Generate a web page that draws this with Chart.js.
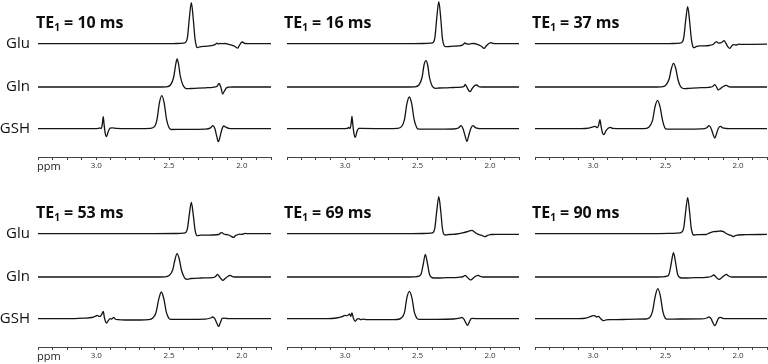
<!DOCTYPE html>
<html>
<head>
<meta charset="utf-8">
<script src="https://cdn.jsdelivr.net/npm/chart.js@4.4.0/dist/chart.umd.min.js"></script>
<style>
  body { margin: 0; width: 768px; height: 364px; background: #fff; position: relative; overflow: hidden; font-family: "Open Sans", sans-serif; }
  .panel { position: absolute; }
  .title { position: absolute; font-weight: 700; font-size: 16px; line-height: 1; color: #0d0d0d; white-space: nowrap; }
  .title sub { font-size: 10px; vertical-align: -3px; line-height: 0; }
</style>
</head>
<body>
<script>
// echo times (ms) and metabolites
const echoTimes = [10, 16, 37, 53, 69, 90];
const metabolites = ['Glu', 'Gln', 'GSH'];

// x axis ticks (ppm), labelled ones
const ppmTicks = [3.4, 3.3, 3.2, 3.1, 3.0, 2.9, 2.8, 2.7, 2.6, 2.5, 2.4, 2.3, 2.2, 2.1, 2.0, 1.9, 1.8];
const tickLabels = ['3.0', '2.5', '2.0'];

// spectra: [ppm, intensity]
const glu10 = [[3.40,0],[2.60,0],[2.45,0.2],[2.40,0.5],[2.385,1.5],[2.374,6],[2.361,25],[2.347,41],[2.334,25],[2.322,5],[2.312,-2.5],[2.305,-4],[2.29,-3.2],[2.25,-2.6],[2.21,-2],[2.185,-1],[2.17,0.5],[2.16,-0.3],[2.15,0.3],[2.135,0],[2.115,0.2],[2.095,-0.5],[2.07,-1.5],[2.045,-3],[2.03,-4.5],[2.018,-2],[2.005,1],[1.995,1.7],[1.985,0.5],[1.965,0],[1.80,0]];
const gln10 = [[3.40,0],[2.60,0],[2.52,0.2],[2.49,2],[2.468,10],[2.455,22],[2.445,28],[2.435,23],[2.423,11],[2.405,2],[2.39,-1],[2.375,-1.7],[2.35,-1.5],[2.30,-1.2],[2.25,-0.8],[2.20,-0.3],[2.17,0.8],[2.157,3.5],[2.145,0],[2.132,-7],[2.12,-4],[2.105,-0.8],[2.09,-0.2],[2.06,0],[1.80,0]];
const gsh10 = [[3.40,0],[3.02,0],[2.985,0.3],[2.975,0.8],[2.965,0.2],[2.958,5],[2.952,12],[2.946,4],[2.938,-5],[2.929,-8],[2.918,-3],[2.905,0.5],[2.89,0.8],[2.86,0.3],[2.70,0],[2.63,0.3],[2.60,2],[2.583,9],[2.566,26],[2.55,33],[2.534,26],[2.517,9],[2.50,1],[2.485,-0.8],[2.40,-0.6],[2.25,-0.4],[2.215,0.8],[2.20,3],[2.185,0],[2.172,-8],[2.162,-13],[2.15,-8],[2.138,-1],[2.125,2.7],[2.11,1.5],[2.09,0.3],[2.06,0],[1.80,0]];

const glu16 = [[3.40,0],[2.60,0],[2.46,0.2],[2.41,0.6],[2.39,1.5],[2.38,6],[2.367,26],[2.353,42],[2.34,26],[2.328,5],[2.316,-2],[2.305,-3],[2.296,-3],[2.27,-2.6],[2.22,-2.2],[2.19,-1.5],[2.172,0.7],[2.16,-0.3],[2.145,-0.5],[2.13,0],[2.11,0.2],[2.09,-0.5],[2.065,-2],[2.048,-4],[2.039,-4.7],[2.025,-2],[2.005,0.5],[1.993,1],[1.98,0.3],[1.96,0],[1.80,0]];
const gln16 = [[3.40,0],[2.60,0],[2.52,0.2],[2.49,2],[2.468,10],[2.455,22],[2.442,26.3],[2.43,22],[2.418,10],[2.402,2],[2.39,-0.5],[2.375,-1.3],[2.35,-1],[2.30,-0.8],[2.25,-0.5],[2.20,-0.2],[2.18,0.5],[2.171,2.7],[2.16,0],[2.147,-3.5],[2.137,-4.7],[2.125,-2],[2.105,1.5],[2.091,2],[2.078,0.5],[2.06,0],[1.80,0]];
const gsh16 = [[3.40,0],[3.02,0],[2.985,0.3],[2.975,1.2],[2.965,0.3],[2.958,5],[2.952,12.3],[2.946,4],[2.938,-5],[2.929,-8.7],[2.918,-3],[2.905,0.3],[2.89,0.3],[2.70,0],[2.64,0.3],[2.61,2],[2.59,9],[2.573,25],[2.556,31.7],[2.54,25],[2.523,9],[2.505,1],[2.49,-0.5],[2.40,-0.5],[2.25,-0.3],[2.215,1],[2.20,3],[2.186,0],[2.172,-7],[2.159,-12.7],[2.147,-7],[2.133,0],[2.118,3],[2.10,1],[2.08,0.2],[2.06,0],[1.80,0]];

const glu37 = [[3.40,0],[2.60,0],[2.45,0.2],[2.40,0.5],[2.385,1.5],[2.374,6],[2.361,23],[2.347,37],[2.334,23],[2.322,5],[2.312,-2.5],[2.304,-4],[2.29,-3],[2.25,-2.2],[2.20,-1.8],[2.17,-0.5],[2.148,2],[2.135,0.5],[2.125,0.7],[2.11,1.5],[2.096,3],[2.082,0],[2.068,-3.5],[2.057,-4.7],[2.045,-2.5],[2.03,-1],[2.011,-1.3],[1.995,-0.5],[1.98,-0.7],[1.90,-0.6],[1.80,-0.5]];
const gln37 = [[3.40,0],[2.60,0],[2.53,0.2],[2.50,1.5],[2.475,8],[2.46,18],[2.445,23.7],[2.43,19],[2.415,8],[2.40,1.5],[2.385,-1],[2.37,-1.7],[2.34,-1.3],[2.28,-0.8],[2.20,-0.3],[2.175,0.5],[2.16,2.3],[2.148,0],[2.137,-3],[2.125,-2],[2.105,0.3],[2.08,1.7],[2.065,0.3],[2.05,0],[1.80,0]];
const gsh37 = [[3.40,0],[3.08,0],[3.03,0.5],[3.00,1.8],[2.985,2.3],[2.972,1],[2.962,3],[2.952,9],[2.944,2],[2.935,-4],[2.925,-6],[2.912,-2.5],[2.895,0.5],[2.88,1.3],[2.865,0.3],[2.80,0],[2.65,0],[2.615,1.5],[2.59,8],[2.572,22],[2.555,28.3],[2.538,22],[2.52,8],[2.505,1],[2.49,-0.5],[2.40,-0.4],[2.25,-0.2],[2.215,1],[2.20,3],[2.186,0.5],[2.173,-5],[2.16,-9.3],[2.148,-5],[2.135,0.5],[2.121,2.3],[2.105,0.8],[2.08,0.2],[2.06,0],[1.80,0]];

const glu53 = [[3.40,0],[2.60,0],[2.45,0.2],[2.40,0.5],[2.385,1.2],[2.374,5],[2.361,19],[2.347,31.3],[2.334,19],[2.322,4],[2.312,-1.5],[2.305,-2],[2.28,-1.5],[2.20,-1.3],[2.16,-0.8],[2.145,0.8],[2.137,1],[2.125,-0.3],[2.11,-0.8],[2.09,-1.3],[2.075,-2.5],[2.057,-3.7],[2.045,-2],[2.034,-1.3],[2.015,-0.5],[2.0,-0.7],[1.977,0.3],[1.96,0],[1.80,0]];
const gln53 = [[3.40,0],[2.60,0],[2.53,0.2],[2.50,1.5],[2.475,7],[2.46,17],[2.445,23.3],[2.43,18],[2.415,7],[2.40,1],[2.39,-1.5],[2.375,-2.3],[2.35,-1.5],[2.28,-1],[2.20,-0.6],[2.18,0.5],[2.167,2.7],[2.155,0.5],[2.142,-2],[2.13,-3.3],[2.115,-1.5],[2.095,0.8],[2.08,1.7],[2.065,0.3],[2.05,0],[1.80,0]];
const gsh53 = [[3.40,0],[3.15,0],[3.08,0.5],[3.03,1.2],[3.005,2.5],[2.993,3.3],[2.98,2.3],[2.968,3],[2.96,5],[2.952,7.3],[2.944,1],[2.936,-3],[2.929,-4.3],[2.918,-2],[2.905,0],[2.893,-0.3],[2.88,1.3],[2.868,-0.5],[2.85,-1],[2.80,-1.3],[2.70,-1.3],[2.64,-1],[2.61,1],[2.59,6],[2.57,20],[2.553,26.7],[2.536,20],[2.518,6],[2.502,0.5],[2.49,-0.7],[2.40,-0.6],[2.25,-0.4],[2.215,0.7],[2.20,1.7],[2.186,0],[2.173,-4],[2.16,-7.7],[2.148,-4],[2.135,0.3],[2.122,0.5],[2.10,0.2],[2.08,0],[1.80,0]];

const glu69 = [[3.40,0],[2.60,0],[2.46,0.2],[2.41,0.5],[2.39,1.5],[2.38,6],[2.367,23],[2.353,37],[2.34,23],[2.328,5],[2.316,-1],[2.305,-1.3],[2.28,-0.8],[2.23,-0.3],[2.19,0.8],[2.15,2.3],[2.125,3.3],[2.105,1.5],[2.085,-0.5],[2.06,-1.5],[2.045,-2.5],[2.034,-3],[2.02,-2],[2.0,-1],[1.985,-0.8],[1.95,-0.7],[1.80,-0.6]];
const gln69 = [[3.40,0],[2.60,0],[2.52,0.2],[2.49,0.8],[2.475,3],[2.46,13],[2.446,22.7],[2.432,14],[2.418,3],[2.405,0],[2.39,-1],[2.37,-1],[2.30,-0.7],[2.22,-0.3],[2.185,0.4],[2.171,1.7],[2.16,0.3],[2.145,-2],[2.132,-3],[2.118,-1.5],[2.10,0.8],[2.08,1.7],[2.065,0.5],[2.05,0],[1.80,0]];
const gsh69 = [[3.40,0],[3.12,0],[3.06,0.7],[3.02,2],[3.00,3.3],[2.985,3],[2.968,4.7],[2.96,2.3],[2.952,5.7],[2.942,0.5],[2.929,-2.7],[2.918,-0.5],[2.905,0],[2.89,-1],[2.875,-0.5],[2.85,-1],[2.70,-1],[2.64,-0.8],[2.61,1],[2.59,6],[2.573,21],[2.556,27.3],[2.539,21],[2.521,6],[2.505,0.5],[2.49,-0.7],[2.40,-0.6],[2.25,-0.3],[2.21,0.5],[2.194,1.3],[2.18,-0.5],[2.167,-4],[2.155,-6.7],[2.143,-3.5],[2.13,0],[2.115,0.3],[2.09,0],[1.80,0]];

const glu90 = [[3.40,0],[2.60,0],[2.46,0.3],[2.40,0.8],[2.385,2],[2.374,6],[2.361,22],[2.347,36],[2.334,22],[2.322,5],[2.312,-0.5],[2.305,-1.3],[2.28,-1],[2.22,-0.8],[2.20,0.5],[2.17,2],[2.14,2.3],[2.12,2.7],[2.10,2],[2.085,0.5],[2.065,-1],[2.045,-2],[2.03,-3],[2.018,-1.8],[2.0,-1.3],[1.95,-1],[1.80,-0.7]];
const gln90 = [[3.40,0],[2.60,0],[2.52,0.2],[2.49,0.8],[2.475,3],[2.46,14],[2.445,24.3],[2.431,15],[2.417,3],[2.405,0],[2.39,-1],[2.37,-1],[2.30,-0.6],[2.22,-0.3],[2.185,0.5],[2.167,2],[2.155,0.5],[2.142,-1.5],[2.13,-2.3],[2.115,-1],[2.095,1.5],[2.08,2.7],[2.065,1],[2.05,0.2],[2.03,0],[1.80,0]];
const gsh90 = [[3.40,0],[3.10,0],[3.05,0.5],[3.02,2],[3.00,3],[2.985,2.8],[2.975,1.7],[2.962,2.3],[2.95,0.5],[2.935,-1.5],[2.925,-2],[2.91,-1.2],[2.88,-1],[2.80,-0.8],[2.70,-0.5],[2.64,-0.3],[2.61,1],[2.59,7],[2.57,23],[2.553,30],[2.536,23],[2.518,7],[2.502,0.5],[2.49,-0.5],[2.40,-0.3],[2.25,-0.2],[2.215,0.7],[2.20,1.7],[2.186,0],[2.173,-4],[2.16,-7],[2.148,-4],[2.135,0.3],[2.121,1.3],[2.105,0.3],[2.08,0],[1.80,0]];

const spectra = [
  [glu10, gln10, gsh10],
  [glu16, gln16, gsh16],
  [glu37, gln37, gsh37],
  [glu53, gln53, gsh53],
  [glu69, gln69, gsh69],
  [glu90, gln90, gsh90]
];

// layout of the 6 panels
const panelLeft = [0, 286, 534];
const panelWidth = [272, 234, 234];
const padLeft = [38, 0, 0];
const rowTop = [0, 190];
const PANEL_H = 172;
// y ranges: each trace gets its own hidden axis so its baseline sits at its row
const yRanges = [[-113.3, 43.7], [-70, 87], [-28.3, 128.7]];

const FONT = '"Open Sans", sans-serif';
const LINE = '#141414';

// draws Glu/Gln/GSH and ppm on the left column
const sideLabels = {
  id: 'sideLabels',
  afterDraw(chart, args, opts) {
    if (!opts.show) return;
    const ctx = chart.ctx;
    const area = chart.chartArea;
    ctx.save();
    ctx.fillStyle = '#111';
    ctx.font = '15px ' + FONT;
    ctx.textAlign = 'right';
    ctx.textBaseline = 'middle';
    metabolites.forEach((m, i) => {
      const y = chart.scales['y' + i].getPixelForValue(0);
      ctx.fillText(m, area.left - 8, y);
    });
    ctx.font = '11px ' + FONT;
    ctx.textAlign = 'left';
    ctx.fillStyle = '#222';
    ctx.fillText('ppm', area.left - 1, area.bottom + 10);
    ctx.restore();
  }
};

echoTimes.forEach((te, p) => {
  const col = p % 3, row = Math.floor(p / 3);

  const wrap = document.createElement('div');
  wrap.className = 'panel';
  wrap.style.left = panelLeft[col] + 'px';
  wrap.style.top = rowTop[row] + 'px';
  wrap.style.width = panelWidth[col] + 'px';
  wrap.style.height = PANEL_H + 'px';
  const canvas = document.createElement('canvas');
  wrap.appendChild(canvas);
  document.body.appendChild(wrap);

  const title = document.createElement('div');
  title.className = 'title';
  title.innerHTML = `TE<sub>1</sub> = ${te} ms`;
  title.style.left = (panelLeft[col] + padLeft[col] - 2) + 'px';
  title.style.top = (rowTop[row] + 14) + 'px';
  document.body.appendChild(title);

  const scales = {
    x: {
      type: 'linear',
      reverse: true,
      min: 1.8,
      max: 3.4,
      afterBuildTicks: axis => { axis.ticks = ppmTicks.map(v => ({ value: v })); },
      afterFit: axis => { axis.height = 15; },
      ticks: {
        autoSkip: false,
        maxRotation: 0,
        padding: 1,
        color: '#333',
        font: { size: 8, family: FONT },
        callback: v => tickLabels.includes(v.toFixed(1)) ? v.toFixed(1) : ''
      },
      grid: { drawOnChartArea: false, tickLength: 3, color: '#444', lineWidth: 1 },
      border: { color: '#444', width: 1 }
    }
  };
  metabolites.forEach((m, i) => {
    scales['y' + i] = { type: 'linear', display: false, min: yRanges[i][0], max: yRanges[i][1] };
  });

  new Chart(canvas, {
    type: 'line',
    data: {
      datasets: metabolites.map((m, i) => ({
        label: m,
        data: spectra[p][i].map(d => ({ x: d[0], y: d[1] })),
        yAxisID: 'y' + i,
        borderColor: LINE,
        borderWidth: 1.3,
        pointRadius: 0,
        fill: false,
        cubicInterpolationMode: 'monotone'
      }))
    },
    options: {
      responsive: true,
      maintainAspectRatio: false,
      animation: false,
      layout: { padding: { left: padLeft[col], right: 0, top: 0, bottom: 0 } },
      plugins: {
        legend: { display: false },
        tooltip: { enabled: false },
        sideLabels: { show: col === 0 }
      },
      scales
    },
    plugins: [sideLabels]
  });
});
</script>
</body>
</html>
